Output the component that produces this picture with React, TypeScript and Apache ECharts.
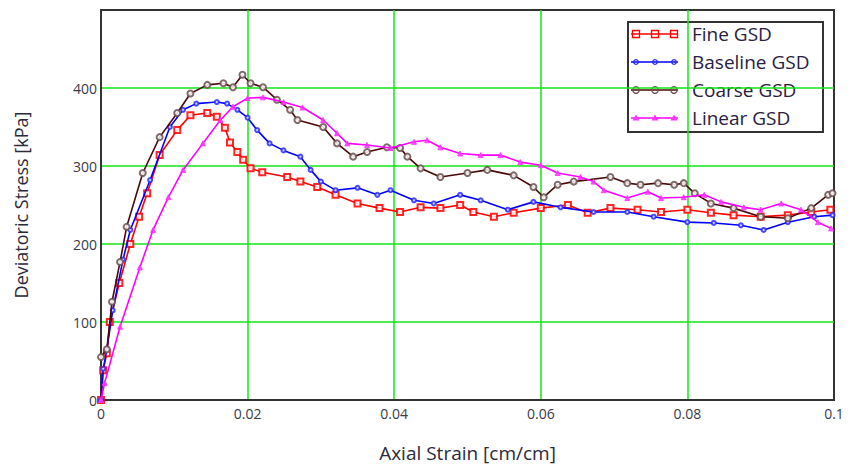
import React, { useEffect, useRef } from "react";
import * as echarts from "echarts";

const seriesNames = ["Fine GSD", "Baseline GSD", "Coarse GSD", "Linear GSD"];
const seriesColors = ["#ff0000", "#0000ff", "#4a0808", "#ff00ff"];
const markerColors = ["#ff0000", "#2a2aff", "#6b5050", "#ff33ff"];

const xTicks = [0, 0.02, 0.04, 0.06, 0.08, 0.1];
const yTicks = [0, 100, 200, 300, 400];

const fineGSD: [number, number][] = [
  [0, 0], [0.0003, 38], [0.0008, 60], [0.0012, 100], [0.0025, 150], [0.004, 200], [0.0052, 235],
  [0.0063, 265], [0.008, 314], [0.0104, 346], [0.0122, 365], [0.0145, 368], [0.0158, 363],
  [0.0169, 349], [0.0176, 330], [0.0186, 318], [0.0194, 308], [0.0204, 297], [0.022, 292],
  [0.0254, 286], [0.0272, 280], [0.0295, 273], [0.032, 263], [0.035, 252], [0.038, 246],
  [0.0408, 241], [0.0436, 247], [0.0463, 246], [0.049, 250], [0.0508, 241], [0.0536, 235],
  [0.0563, 240], [0.06, 246], [0.0637, 250], [0.0664, 240], [0.0695, 246], [0.0732, 244],
  [0.0764, 241], [0.08, 244], [0.0832, 240], [0.0863, 237], [0.09, 235], [0.0937, 237],
  [0.0969, 241], [0.0995, 244],
];

const baselineGSD: [number, number][] = [
  [0, 0], [0.0003, 40], [0.0008, 65], [0.0016, 115], [0.003, 180], [0.004, 218], [0.0067, 282],
  [0.0094, 350], [0.0112, 372], [0.013, 380], [0.0158, 382], [0.0172, 380], [0.0186, 372],
  [0.02, 362], [0.0213, 346], [0.023, 329], [0.0249, 320], [0.0272, 312], [0.0286, 295],
  [0.03, 280], [0.032, 269], [0.035, 272], [0.0377, 263], [0.0395, 269], [0.0427, 256],
  [0.0454, 252], [0.049, 263], [0.0518, 256], [0.0555, 244], [0.059, 254], [0.0627, 247],
  [0.0672, 241], [0.0718, 241], [0.0754, 235], [0.08, 228], [0.0836, 227], [0.0873, 224],
  [0.0904, 218], [0.0937, 228], [0.0973, 235], [0.0998, 237],
];

const coarseGSD: [number, number][] = [
  [0, 55], [0.0008, 65], [0.0015, 126], [0.0026, 177], [0.0035, 222], [0.0057, 291],
  [0.008, 337], [0.0104, 368], [0.0122, 393], [0.0145, 404], [0.0167, 406], [0.018, 401],
  [0.0193, 417], [0.0204, 406], [0.0221, 401], [0.024, 385], [0.0258, 372], [0.0268, 359],
  [0.0303, 350], [0.0322, 329], [0.0344, 312], [0.0363, 318], [0.039, 324], [0.0408, 323],
  [0.0418, 312], [0.0436, 297], [0.0463, 286], [0.05, 291], [0.0527, 295], [0.0563, 288],
  [0.059, 273], [0.0604, 260], [0.0623, 276], [0.0645, 280], [0.0695, 286], [0.0718, 278],
  [0.0736, 276], [0.076, 278], [0.0782, 276], [0.0795, 278], [0.081, 265], [0.0832, 252],
  [0.0863, 246], [0.09, 235], [0.0937, 233], [0.0969, 246], [0.0992, 263], [0.0998, 265],
];

const linearGSD: [number, number][] = [
  [0, 0], [0.0005, 22], [0.0026, 94], [0.0053, 170], [0.0071, 218], [0.0092, 260],
  [0.0112, 295], [0.0139, 329], [0.0163, 359], [0.018, 376], [0.02, 387], [0.0221, 388],
  [0.0249, 382], [0.0275, 375], [0.0303, 359], [0.0322, 342], [0.0336, 329], [0.0363, 327],
  [0.0395, 323], [0.0427, 331], [0.0445, 333], [0.0463, 324], [0.049, 316], [0.0518, 314],
  [0.0545, 314], [0.0572, 305], [0.06, 301], [0.0623, 291], [0.0654, 286], [0.0672, 280],
  [0.0686, 269], [0.0718, 259], [0.0746, 267], [0.0764, 259], [0.0795, 260], [0.0823, 263],
  [0.0846, 254], [0.0877, 247], [0.09, 244], [0.0928, 252], [0.0955, 244], [0.0978, 228],
  [0.0996, 220],
];

const seriesData = [fineGSD, baselineGSD, coarseGSD, linearGSD];
const seriesSymbols = ["emptyRect", "emptyCircle", "emptyCircle", "triangle"];
const seriesSymbolSizes = [6, 4, 6, 5];

const FONT = "'Open Sans', 'Noto Sans', sans-serif";
const GRID_GREEN = "#14e614";
const FRAME = "#333333";

function legendMarker(i: number, cx: number, cy: number): any {
  const stroke = markerColors[i];
  if (i === 0) {
    return { type: "rect", shape: { x: cx - 3.5, y: cy - 3.5, width: 7, height: 7 }, style: { fill: "none", stroke, lineWidth: 1.3 } };
  }
  if (i === 1) {
    return { type: "circle", shape: { cx, cy, r: 2.3 }, style: { fill: "none", stroke, lineWidth: 1.3 } };
  }
  if (i === 2) {
    return { type: "circle", shape: { cx, cy, r: 3.3 }, style: { fill: "none", stroke, lineWidth: 1.2 } };
  }
  return {
    type: "polygon",
    shape: { points: [[cx - 3.5, cy + 2.5], [cx, cy - 3.5], [cx + 3.5, cy + 2.5]] },
    style: { fill: stroke, stroke: "none" },
  };
}

function buildLegend(): any {
  const children: any[] = [
    { type: "rect", shape: { x: 628, y: 22, width: 195, height: 110 }, style: { fill: "#ffffff", stroke: FRAME, lineWidth: 2 } },
  ];
  seriesNames.forEach((name, i) => {
    const y = 34 + i * 28;
    children.push({ type: "line", shape: { x1: 631, y1: y, x2: 678, y2: y }, style: { stroke: seriesColors[i], lineWidth: 1.6 } });
    [636, 655, 674].forEach((mx) => children.push(legendMarker(i, mx, y)));
    children.push({
      type: "text",
      x: 692,
      y,
      style: { text: name, fontFamily: FONT, fontSize: 19, fill: "#2a2040", verticalAlign: "middle", align: "left" },
    });
  });
  return [{ type: "group", z: 100, children }];
}

export default function App() {
  const ref = useRef<HTMLDivElement>(null);

  useEffect(() => {
    if (!ref.current) return;
    const chart = echarts.init(ref.current, null, { renderer: "svg" });
    chart.setOption({
      animation: false,
      backgroundColor: "#ffffff",
      textStyle: { fontFamily: FONT },
      grid: {
        left: 101,
        right: 17,
        top: 10,
        bottom: 70,
        show: true,
        borderColor: FRAME,
        borderWidth: 2,
        backgroundColor: "transparent",
      },
      graphic: buildLegend(),
      xAxis: {
        type: "value",
        min: 0,
        max: 0.1,
        interval: 0.02,
        name: "Axial Strain [cm/cm]",
        nameLocation: "middle",
        nameGap: 43,
        nameTextStyle: { fontFamily: FONT, fontSize: 19, color: "#2a2a3a" },
        axisLine: { show: true, onZero: false, lineStyle: { color: FRAME, width: 2 } },
        axisTick: { show: false },
        axisLabel: {
          fontFamily: FONT,
          fontSize: 14,
          color: "#3a3a4a",
          margin: 6,
          formatter: (v: number) => {
            const t = xTicks.find((x) => Math.abs(x - v) < 1e-9);
            return t === undefined ? "" : String(t);
          },
        },
        splitLine: { show: true, showMinLine: false, showMaxLine: false, lineStyle: { color: GRID_GREEN, width: 1.5 } },
      },
      yAxis: {
        type: "value",
        min: 0,
        max: 500,
        interval: 100,
        name: "Deviatoric Stress [kPa]",
        nameLocation: "middle",
        nameGap: 71,
        nameTextStyle: { fontFamily: FONT, fontSize: 18, color: "#2a2a3a" },
        axisLine: { show: true, lineStyle: { color: FRAME, width: 2 } },
        axisTick: { show: false },
        axisLabel: {
          fontFamily: FONT,
          fontSize: 14,
          color: "#3a3a4a",
          margin: 4,
          formatter: (v: number) => (yTicks.includes(v) ? String(v) : ""),
        },
        splitLine: { show: true, showMinLine: false, showMaxLine: false, lineStyle: { color: GRID_GREEN, width: 1.5 } },
      },
      series: seriesNames.map((name, i) => ({
        name,
        type: "line",
        data: seriesData[i],
        color: seriesColors[i],
        showSymbol: true,
        symbol: seriesSymbols[i],
        symbolSize: seriesSymbolSizes[i],
        lineStyle: { width: 1.6, color: seriesColors[i] },
        itemStyle: { color: markerColors[i], borderColor: markerColors[i], borderWidth: 1, opacity: 0.85 },
        z: 2 + i,
      })),
    });
    return () => chart.dispose();
  }, []);

  return <div ref={ref} style={{ position: "fixed", left: 0, top: 0, width: 851, height: 470 }} />;
}
